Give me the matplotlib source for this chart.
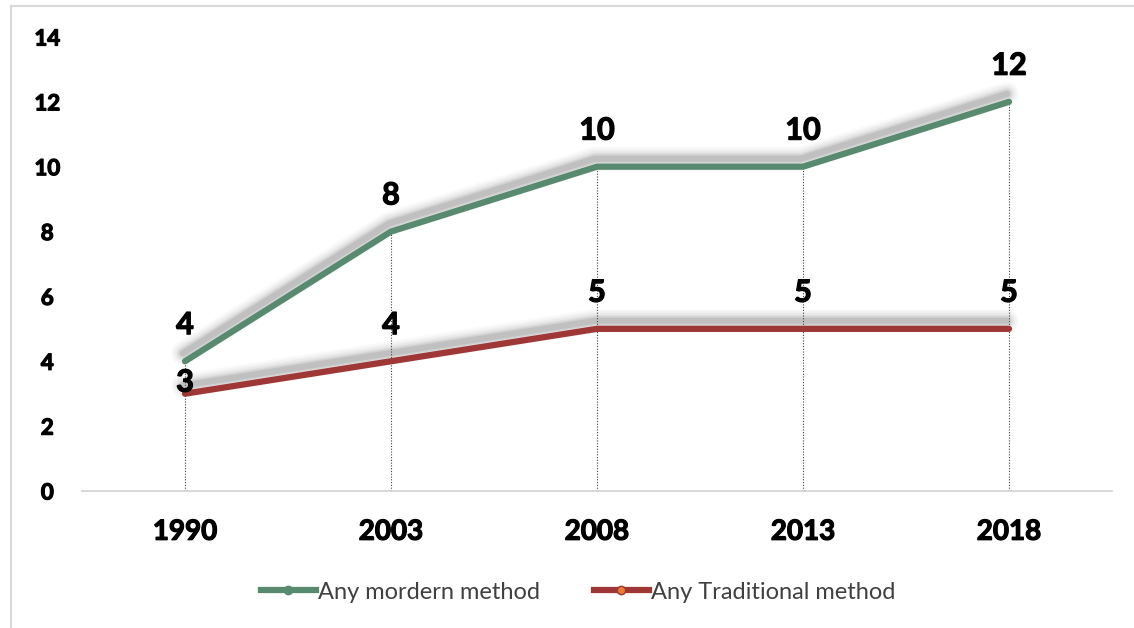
import matplotlib.pyplot as plt
import matplotlib.transforms as mtransforms
import matplotlib.patheffects as pe
from matplotlib.lines import Line2D

years = ['1990', '2003', '2008', '2013', '2018']
modern = [4, 8, 10, 10, 12]
traditional = [3, 4, 5, 5, 5]
yticks = [0, 2, 4, 6, 8, 10, 12, 14]

green = '#578A6F'
red = '#9E3735'
label_font = 'Lato'
# thicken the bold glyphs a little
thick = [pe.withStroke(linewidth=0.9, foreground='black')]

fig = plt.figure(figsize=(11.34, 6.28), dpi=100)
ax = fig.add_axes([0.0723, 0.2182, 0.9083, 0.7229])

x = list(range(len(years)))

# soft gray shadow above each line: stack of offset, widening translucent strokes
for series in (modern, traditional):
    for w, a in [(24, 0.03), (20, 0.045), (16, 0.06), (12, 0.08), (9, 0.11), (6, 0.15)]:
        tr = mtransforms.offset_copy(ax.transData, fig=fig, x=-2, y=8, units='dots')
        ax.plot(x, series, color='#606060', lw=w * 0.72, alpha=a,
                solid_capstyle='round', solid_joinstyle='round', transform=tr, zorder=2)

# drop lines from the top point to the axis
for xi, m, t in zip(x, modern, traditional):
    ax.plot([xi, xi], [0, max(m, t)], color='#404040', lw=0.8, ls=(0, (1, 1.5)), zorder=1)

ax.plot(x, modern, color=green, lw=4.5, solid_capstyle='round',
        solid_joinstyle='round', zorder=4)
ax.plot(x, traditional, color=red, lw=4.5, solid_capstyle='round',
        solid_joinstyle='round', zorder=4)

# data labels
for xi, v in zip(x, modern):
    ax.annotate(str(v), (xi, v), xytext=(0, 26), textcoords='offset points',
                ha='center', va='center', fontsize=22, fontweight='bold',
                family=label_font, zorder=6, path_effects=thick)
for xi, v in zip(x, traditional):
    off = 26 if xi > 0 else 8
    ax.annotate(str(v), (xi, v), xytext=(0, off), textcoords='offset points',
                ha='center', va='center', fontsize=22, fontweight='bold',
                family=label_font, zorder=6, path_effects=thick)

ax.set_xlim(-0.5, len(years) - 0.5)
ax.set_ylim(0, 14)
ax.set_yticks(yticks)
ax.set_xticks(x)
ax.set_xticklabels(years)
for s in ['top', 'right', 'left']:
    ax.spines[s].set_visible(False)
ax.spines['bottom'].set_color('#D0D0D0')
ax.spines['bottom'].set_linewidth(1.2)
ax.tick_params(length=0)
ax.tick_params(axis='x', pad=20)
ax.tick_params(axis='y', pad=25)
for lbl in ax.get_xticklabels() + ax.get_yticklabels():
    lbl.set_family(label_font)
    lbl.set_fontweight('bold')
    lbl.set_path_effects(thick)
for lbl in ax.get_xticklabels():
    lbl.set_fontsize(20)
for lbl in ax.get_yticklabels():
    lbl.set_fontsize(16)
    lbl.set_horizontalalignment('center')

handles = [
    Line2D([], [], color=green, lw=4.5, marker='o', markersize=6,
           markerfacecolor=green, markeredgecolor=green),
    Line2D([], [], color=red, lw=4.5, marker='o', markersize=6,
           markerfacecolor='#EE7A30', markeredgecolor=red),
]
fig.legend(handles, ['Any mordern method', 'Any Traditional method'],
           loc='center', bbox_to_anchor=(0.51, 0.057), ncol=2, frameon=False,
           handlelength=2.3, handletextpad=0.1, columnspacing=2.3,
           prop={'family': label_font, 'size': 17}, labelcolor='#404040')

# chart-area border (left and top edges)
fig.add_artist(Line2D([0.0095, 0.0095], [0, 0.99], transform=fig.transFigure,
                      color='#D9D9D9', lw=1.5))
fig.add_artist(Line2D([0.0095, 1.0], [0.99, 0.99], transform=fig.transFigure,
                      color='#D9D9D9', lw=1.5))

fig.savefig('out.png', dpi=100)
